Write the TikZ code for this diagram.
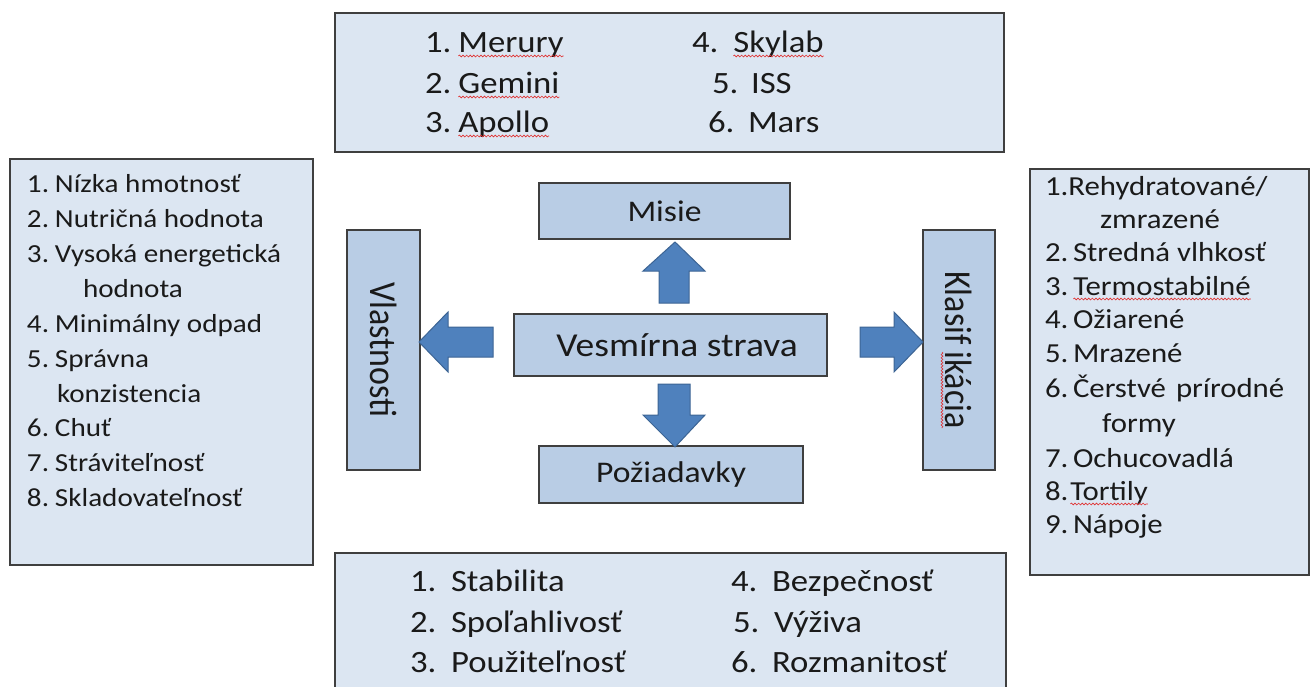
\documentclass[tikz,border=0pt]{standalone}
\usepackage{fontspec}
\setmainfont{Carlito}
\usetikzlibrary{decorations.pathmorphing}
\definecolor{outerfill}{HTML}{DCE6F2}
\definecolor{innerfill}{HTML}{B9CDE5}
\definecolor{arrowfill}{HTML}{4F81BD}
\definecolor{arrowline}{HTML}{3C6494}
\definecolor{boxline}{HTML}{3F3F3F}
\definecolor{txt}{HTML}{1A1A1A}
\definecolor{spellred}{HTML}{E03030}
\newcommand\numbox[2]{\makebox[#1pt][l]{\sx{#2}}}
\newcommand\sx[1]{\scalebox{1.12}[1]{#1}}
\newcommand\wv[1]{\tikz[baseline=(w.base)]{\node[inner sep=0pt,outer sep=0pt,anchor=base](w){#1};\draw[draw=spellred,line width=0.6pt,decorate,decoration={snake,amplitude=0.9pt,segment length=3.2pt}] ([yshift=-4pt]w.base west) -- ([yshift=-4pt]w.base east);}}
\begin{document}
\begin{tikzpicture}[x=1pt,y=-1pt,
  outerbox/.style={draw=boxline, line width=1.4pt, fill=outerfill, inner sep=0pt, outer sep=0pt},
  innerbox/.style={draw=boxline, line width=1.4pt, fill=innerfill, inner sep=0pt, outer sep=0pt, text=txt},
  blockarrow/.style={fill=arrowfill, draw=arrowline, line width=1pt, line join=miter},
  item/.style={anchor=base west, inner sep=0pt, outer sep=0pt, text=txt},
  spell/.style={draw=spellred, line width=0.6pt, decorate, decoration={snake, amplitude=0.9pt, segment length=3.2pt}},
  lfont/.style={font=\fontsize{26}{31}\selectfont},
  rfont/.style={font=\fontsize{27.5}{33}\selectfont},
  tfont/.style={font=\fontsize{31}{37}\selectfont},
  bfont/.style={font=\fontsize{31}{37}\selectfont}
]
\clip (0,0) rectangle (1311,686);
\fill[white] (0,0) rectangle (1311,686);

% outer boxes
\node[outerbox, minimum width=669pt, minimum height=139pt] (top) at (669.5,82.5) {};
\node[outerbox, minimum width=303pt, minimum height=406pt] (left) at (161.5,362) {};
\node[outerbox, minimum width=279pt, minimum height=406pt] (right) at (1169.5,372) {};
\node[outerbox, minimum width=671pt, minimum height=147pt] (bottom) at (670.5,626.5) {};

% inner boxes
\node[innerbox, minimum width=251pt, minimum height=56pt, font=\fontsize{30}{36}\selectfont] (misie) at (664.5,211) {\sx{Misie}};
\node[innerbox, minimum width=313pt, minimum height=62pt, font=\fontsize{33.5}{40}\selectfont] (center) at (670.5,345) {\hspace{13pt}\sx{Vesmírna strava}};
\node[innerbox, minimum width=264pt, minimum height=57pt, font=\fontsize{30}{36}\selectfont] (poz) at (671,474.5) {\sx{Požiadavky}};
\node[innerbox, rotate=-90, minimum width=240pt, minimum height=73pt, font=\fontsize{34}{40}\selectfont] (vlast) at (383.5,350) {\scalebox{1}[1.12]{Vlastnosti}};
\node[innerbox, rotate=-90, minimum width=240pt, minimum height=72pt, font=\fontsize{34}{40}\selectfont] (klas) at (959,350) {\scalebox{1}[1.12]{Klasif\hspace{0.2em}ikácia}};
\draw[spell] (942,352) -- (942,428);

% block arrows
\draw[blockarrow] (659,303) -- (659,271) -- (643,271) -- (675,242) -- (705,271) -- (689,271) -- (689,303) -- cycle;
\draw[blockarrow] (658,384) -- (690,384) -- (690,415) -- (705,415) -- (675,447) -- (643,415) -- (658,415) -- cycle;
\draw[blockarrow] (493,327) -- (448,327) -- (448,312) -- (419,342) -- (448,372) -- (448,357) -- (493,357) -- cycle;
\draw[blockarrow] (860,327) -- (894,327) -- (894,312) -- (923,342) -- (894,372) -- (894,357) -- (860,357) -- cycle;

% top list
\node[item, tfont] (t1) at (425,52) {\numbox{33}{1.}\sx{\wv{Merury}}};
\node[item, tfont] (t2) at (425,93) {\numbox{33}{2.}\sx{\wv{Gemini}}};
\node[item, tfont] (t3) at (425,132) {\numbox{33}{3.}\sx{\wv{Apollo}}};
\node[item, tfont] (t4) at (692,52) {\numbox{41}{4.}\sx{\wv{Skylab}}};
\node[item, tfont] (t5) at (712,93) {\numbox{39}{5.}\sx{ISS}};
\node[item, tfont] (t6) at (708,132) {\numbox{40}{6.}\sx{Mars}};

% left list
\node[item, lfont] (l1) at (27,192) {\numbox{28}{1.}\sx{Nízka hmotnosť}};
\node[item, lfont] (l2) at (27,227) {\numbox{28}{2.}\sx{Nutričná hodnota}};
\node[item, lfont] (l3) at (27,262) {\numbox{28}{3.}\sx{Vysoká energetická}};
\node[item, lfont] (l3b) at (83,297) {\sx{hodnota}};
\node[item, lfont] (l4) at (27,332) {\numbox{28}{4.}\sx{Minimálny odpad}};
\node[item, lfont] (l5) at (27,367) {\numbox{28}{5.}\sx{Správna}};
\node[item, lfont] (l5b) at (57,402) {\sx{konzistencia}};
\node[item, lfont] (l6) at (27,436) {\numbox{28}{6.}\sx{Chuť}};
\node[item, lfont] (l7) at (27,471) {\numbox{28}{7.}\sx{Stráviteľnosť}};
\node[item, lfont] (l8) at (27,506) {\numbox{28}{8.}\sx{Skladovateľnosť}};

% right list
\node[item, rfont] (r1) at (1045,195) {\sx{1.Rehydratované/}};
\node[item, rfont] (r1b) at (1100,228) {\sx{zmrazené}};
\node[item, rfont] (r2) at (1045,261) {\numbox{28}{2.}\sx{Stredná vlhkosť}};
\node[item, rfont] (r3) at (1045,295) {\numbox{28}{3.}\sx{\wv{Termostabilné}}};
\node[item, rfont] (r4) at (1045,328) {\numbox{28}{4.}\sx{Ožiarené}};
\node[item, rfont] (r5) at (1045,362) {\numbox{28}{5.}\sx{Mrazené}};
\node[item, rfont] (r6) at (1045,397) {\numbox{28}{6.}\sx{Čerstvé\hspace{9pt}prírodné}};
\node[item, rfont] (r6b) at (1102,432) {\sx{formy}};
\node[item, rfont] (r7) at (1045,467) {\numbox{28}{7.}\sx{Ochucovadlá}};
\node[item, rfont] (r8) at (1045,500) {\numbox{25}{8.}\sx{\wv{Tortily}}};
\node[item, rfont] (r9) at (1045,533) {\numbox{28}{9.}\sx{Nápoje}};

% bottom list
\node[item, bfont] (b1) at (410,591) {\numbox{41}{1.}\sx{Stabilita}};
\node[item, bfont] (b2) at (410,632) {\numbox{41}{2.}\sx{Spoľahlivosť}};
\node[item, bfont] (b3) at (410,672) {\numbox{41}{3.}\sx{Použiteľnosť}};
\node[item, bfont] (b4) at (731,591) {\numbox{41}{4.}\sx{Bezpečnosť}};
\node[item, bfont] (b5) at (733,632) {\numbox{41}{5.}\sx{Výživa}};
\node[item, bfont] (b6) at (731,672) {\numbox{41}{6.}\sx{Rozmanitosť}};
\end{tikzpicture}
\end{document}
